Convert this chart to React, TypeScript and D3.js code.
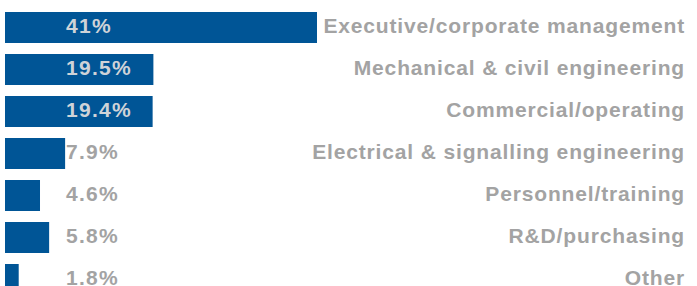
import { useEffect, useRef } from "react";
import * as d3 from "d3";

const categories = [
  "Executive/corporate management",
  "Mechanical & civil engineering",
  "Commercial/operating",
  "Electrical & signalling engineering",
  "Personnel/training",
  "R&D/purchasing",
  "Other",
];
const values = [41, 19.5, 19.4, 7.9, 4.6, 5.8, 1.8];
const valueLabels = ["41%", "19.5%", "19.4%", "7.9%", "4.6%", "5.8%", "1.8%"];

const WIDTH = 697;
const HEIGHT = 286;

export default function App() {
  const svgRef = useRef<SVGSVGElement>(null);

  useEffect(() => {
    if (!svgRef.current) return;
    const svg = d3.select(svgRef.current);
    svg.selectAll("*").remove();

    const x = d3.scaleLinear().domain([0, 41]).range([5, 317]);
    // 42px step, 31px bars, first bar at y=12
    const y = d3
      .scaleBand<string>()
      .domain(categories)
      .range([12, 12 + 42 * (categories.length - 1) + 31])
      .paddingInner(11 / 42)
      .paddingOuter(0);

    const font = "'Liberation Sans', Arial, sans-serif";
    const rows = svg
      .selectAll("g.row")
      .data(categories)
      .enter()
      .append("g")
      .attr("class", "row");

    rows
      .append("rect")
      .attr("x", x(0))
      .attr("y", (d) => y(d)!)
      .attr("width", (_d, i) => x(values[i]) - x(0))
      .attr("height", y.bandwidth())
      .attr("fill", "#005596");

    rows
      .append("text")
      .attr("x", 66)
      .attr("y", (d) => y(d)! + 21)
      .attr("font-family", font)
      .attr("font-weight", "bold")
      .attr("font-size", 21)
      .attr("letter-spacing", 1.3)
      .attr("fill", (_d, i) => (x(values[i]) > 110 ? "#cfd3d8" : "#a3a3a3"))
      .text((_d, i) => valueLabels[i]);

    rows
      .append("text")
      .attr("x", 685)
      .attr("y", (d) => y(d)! + 21)
      .attr("text-anchor", "end")
      .attr("font-family", font)
      .attr("font-weight", "bold")
      .attr("font-size", 21)
      .attr("letter-spacing", 0.85)
      .attr("fill", "#a3a3a3")
      .text((d) => d);
  }, []);

  return (
    <svg
      ref={svgRef}
      width={WIDTH}
      height={HEIGHT}
      style={{ position: "absolute", left: 0, top: 0, background: "#fff" }}
    />
  );
}
